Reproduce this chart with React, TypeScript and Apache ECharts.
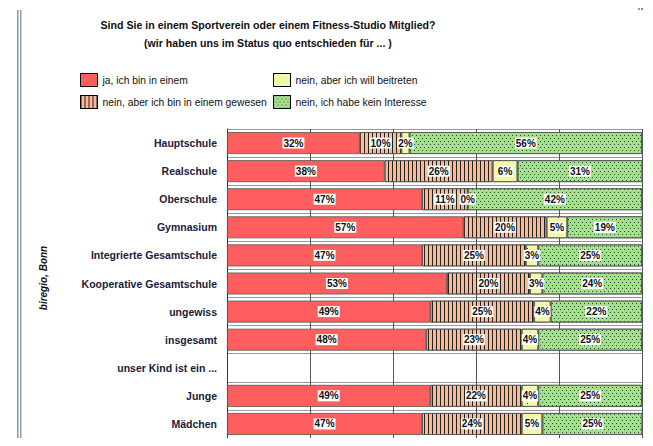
import React, { useEffect, useRef } from "react";
import * as echarts from "echarts";

const categories = [
  "Hauptschule",
  "Realschule",
  "Oberschule",
  "Gymnasium",
  "Integrierte Gesamtschule",
  "Kooperative Gesamtschule",
  "ungewiss",
  "insgesamt",
  "unser Kind ist ein ...",
  "Junge",
  "Mädchen",
];

const seriesNames = [
  "ja, ich bin in einem",
  "nein, aber ich bin in einem gewesen",
  "nein, aber ich will beitreten",
  "nein, ich habe kein Interesse",
];

const jaValues = [32, 38, 47, 57, 47, 53, 49, 48, null, 49, 47];
const gewesenValues = [10, 26, 11, 20, 25, 20, 25, 23, null, 22, 24];
const beitretenValues = [2, 6, 0, 5, 3, 3, 4, 4, null, 4, 5];
const keinValues = [56, 31, 42, 19, 25, 24, 22, 25, null, 25, 25];

const titleLines = [
  "Sind Sie in einem Sportverein oder einem Fitness-Studio Mitglied?",
  "(wir haben uns im Status quo entschieden für ... )",
];
const sourceText = "biregio, Bonn";

const FONT = "'Liberation Sans', Arial, sans-serif";

export default function App() {
  const ref = useRef<HTMLDivElement>(null);
  useEffect(() => {
    if (!ref.current) return;
    const chart = echarts.init(ref.current, null, { renderer: "svg" });

    const label = {
      show: true,
      position: "inside",
      formatter: "{c}%",
      fontFamily: FONT,
      fontSize: 10,
      fontWeight: "bold",
      color: "#111",
      backgroundColor: "#fff",
      padding: [1, 1, 0, 1],
    };

    const decals: any[] = [
      undefined,
      {
        symbol: "rect",
        symbolSize: 1,
        dashArrayX: [1, 3],
        dashArrayY: [10, 0],
        color: "#222",
      },
      {
        symbol: "rect",
        symbolSize: 1,
        dashArrayX: [1, 30],
        dashArrayY: [1, 30],
        color: "#333",
      },
      {
        symbol: "rect",
        symbolSize: 1,
        dashArrayX: [
          [1, 3],
          [0, 2, 1, 1],
        ],
        dashArrayY: [1, 2],
        color: "#2a4a2a",
      },
    ];
    const colors = ["#FF5E5E", "#F9BA92", "#F1F9A2", "#A2E08C"];
    const values = [jaValues, gewesenValues, beitretenValues, keinValues];

    const series = seriesNames.map((name, i) => ({
      name,
      type: "bar",
      stack: "total",
      barCategoryGap: "22%",
      data: values[i],
      label,
      itemStyle: {
        color: colors[i],
        borderColor: "#555",
        borderWidth: 0.8,
        decal: decals[i],
      },
      emphasis: { disabled: true },
    }));

    const legendCommon = {
      orient: "vertical",
      itemWidth: 17,
      itemHeight: 13,
      itemGap: 8,
      icon: "rect",
      textStyle: { fontFamily: FONT, fontSize: 10.3, color: "#111" },
      itemStyle: { borderColor: "#000", borderWidth: 1 },
      selectedMode: false,
    };

    chart.setOption({
      animation: false,
      grid: { left: 227, right: 11, top: 129, bottom: 8, containLabel: false },
      legend: [
        { ...legendCommon, left: 75, top: 68, data: [seriesNames[0], seriesNames[1]] },
        { ...legendCommon, left: 268, top: 68, data: [seriesNames[2], seriesNames[3]] },
      ],
      xAxis: {
        type: "value",
        min: 0,
        max: 100,
        interval: 20,
        axisLabel: { show: false },
        axisLine: { show: false },
        axisTick: { show: false },
        splitLine: { show: true, lineStyle: { color: "#555", width: 1 } },
      },
      yAxis: {
        type: "category",
        inverse: true,
        data: categories,
        axisTick: { show: false },
        axisLine: { show: true, lineStyle: { color: "#333", width: 1 } },
        axisLabel: {
          fontFamily: FONT,
          fontSize: 10.5,
          fontWeight: "bold",
          color: "#1b1b3a",
          margin: 10,
        },
        splitLine: { show: true, lineStyle: { color: "#999", width: 1 } },
      },
      series,
      graphic: [
        { type: "rect", shape: { x: 0, y: 1, width: 640, height: 1 }, style: { fill: "#999" } },
        { type: "rect", shape: { x: 0, y: 4, width: 640, height: 3 }, style: { fill: "#8a8a8a" } },
        { type: "rect", shape: { x: 17, y: 10, width: 1.5, height: 436 }, style: { fill: "#6a9ad8" } },
        { type: "rect", shape: { x: 20, y: 10, width: 1.5, height: 436 }, style: { fill: "#999" } },
        { type: "rect", shape: { x: 638, y: 1, width: 2, height: 9 }, style: { fill: "#999" } },
        { type: "rect", shape: { x: 641, y: 0, width: 2, height: 10 }, style: { fill: "#5b8fd8" } },
        {
          type: "text",
          x: 268,
          y: 25,
          style: {
            text: titleLines[0],
            font: `bold 10.6px ${FONT}`,
            fill: "#111",
            textAlign: "center",
            textVerticalAlign: "middle",
          },
        },
        {
          type: "text",
          x: 268,
          y: 43,
          style: {
            text: titleLines[1],
            font: `bold 10.6px ${FONT}`,
            fill: "#111",
            textAlign: "center",
            textVerticalAlign: "middle",
          },
        },
        {
          type: "text",
          x: 43,
          y: 278,
          rotation: Math.PI / 2,
          style: {
            text: sourceText,
            font: `italic bold 10px ${FONT}`,
            fill: "#111",
            textAlign: "center",
            textVerticalAlign: "middle",
          },
        },
      ],
    });
    return () => chart.dispose();
  }, []);
  return <div ref={ref} style={{ width: 653, height: 446, margin: -8 }} />;
}
